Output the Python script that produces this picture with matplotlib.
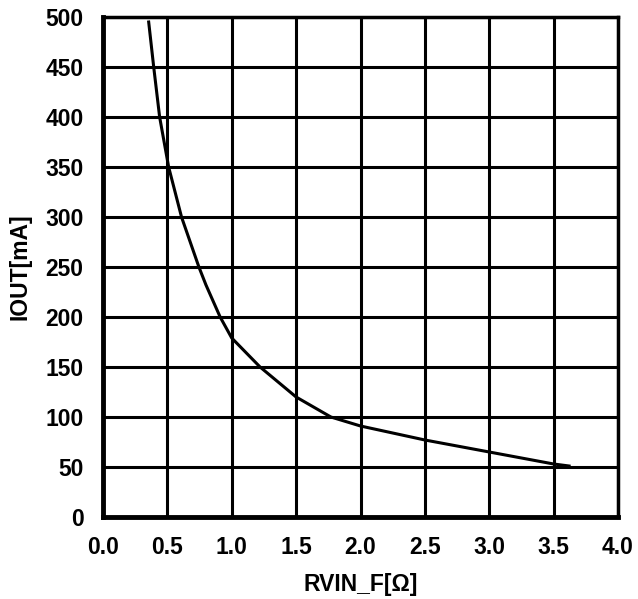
import matplotlib.pyplot as plt

plt.rcParams["font.family"] = ["Liberation Sans", "DejaVu Sans"]
plt.rcParams["font.weight"] = "bold"

# curve
rvin = [0.355, 0.394, 0.44, 0.51, 0.61, 0.745, 0.80, 0.91, 1.0, 1.22, 1.5,
        1.77, 2.0, 2.5, 3.0, 3.5, 3.62]
iout = [495, 450, 400, 350, 300, 250, 232, 200, 179, 150, 120,
        100, 91, 77, 65, 53, 51]

x_ticks = [0.0, 0.5, 1.0, 1.5, 2.0, 2.5, 3.0, 3.5, 4.0]
y_ticks = [0, 50, 100, 150, 200, 250, 300, 350, 400, 450, 500]

fig = plt.figure(figsize=(6.38, 5.99), dpi=100)
ax = fig.add_axes([0.1614, 0.1369, 0.8073, 0.8347])

ax.plot(rvin, iout, color="black", linewidth=2.2, zorder=3)

ax.set_xlim(0, 4)
ax.set_ylim(0, 500)
ax.set_xticks(x_ticks)
ax.set_xticklabels([f"{v:.1f}" for v in x_ticks])
ax.set_yticks(y_ticks)
ax.grid(True, color="black", linewidth=2.2)
ax.tick_params(length=0, labelsize=16.5, pad=14)
for s in ax.spines.values():
    s.set_linewidth(2.5)
ax.spines["left"].set_linewidth(3.5)
ax.spines["bottom"].set_linewidth(3.5)

ax.set_xlabel("RVIN_F[Ω]", fontsize=16.5, fontweight="bold", labelpad=10)
ax.set_ylabel("IOUT[mA]", fontsize=16.5, fontweight="bold", labelpad=10)

fig.savefig("out.png", dpi=100)
